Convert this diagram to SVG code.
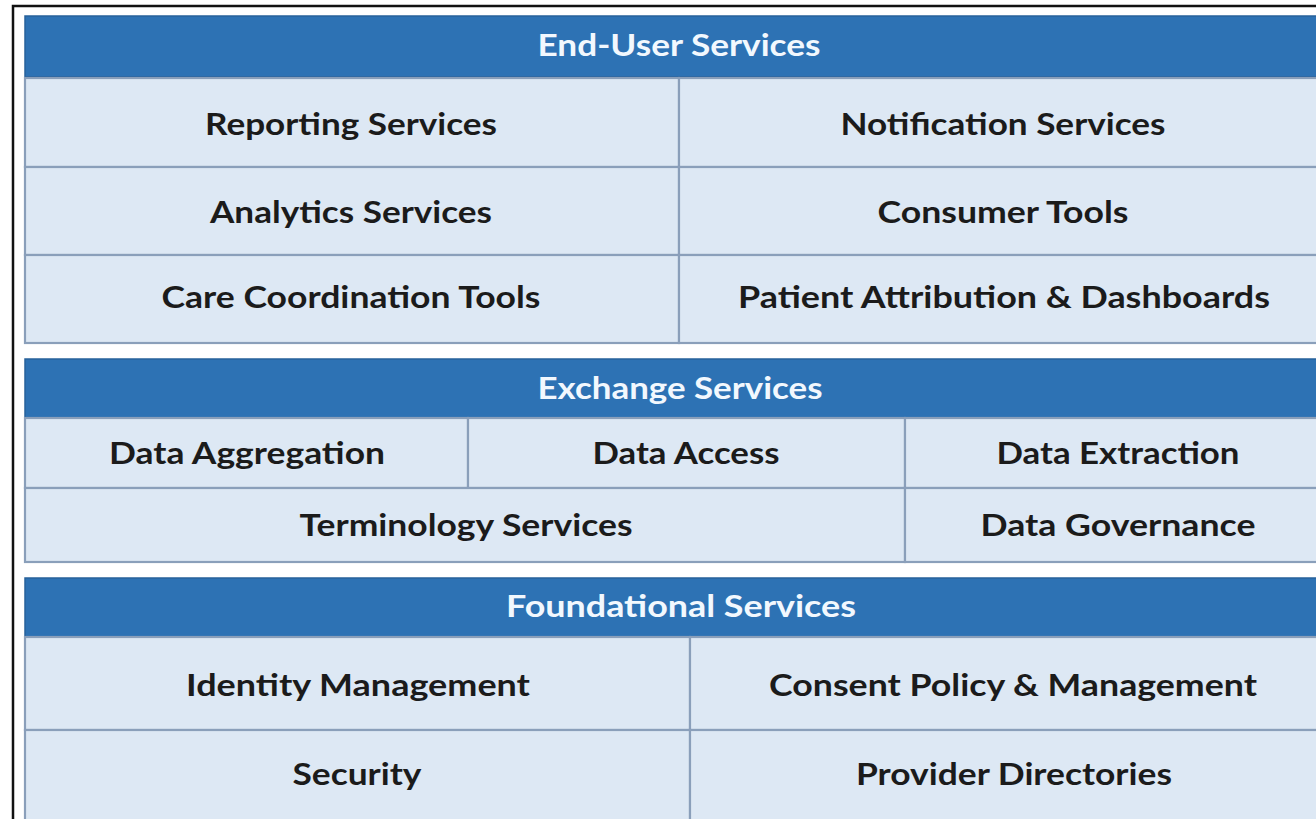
<svg xmlns="http://www.w3.org/2000/svg" width="1316" height="819" viewBox="0 0 1316 819">
  <style>
    .hdr { fill: #2d72b4; stroke: #27619a; stroke-width: 1.5; }
    .cell { fill: #dde8f4; stroke: #8a9fba; stroke-width: 2.2; }
    .ht { font-family: Lato, "Open Sans", "Liberation Sans", sans-serif; font-weight: 700; font-size: 30px; fill: #f2f8fe; text-anchor: middle; }
    .ct { font-family: Lato, "Open Sans", "Liberation Sans", sans-serif; font-weight: 700; font-size: 30px; fill: #1b1b1b; text-anchor: middle; }
  </style>
  <rect x="0" y="0" width="1316" height="819" fill="#ffffff"/>
  <path d="M13 819 V6 H1316" fill="none" stroke="#111111" stroke-width="2.5"/>

  <g id="end-user-services">
    <rect class="hdr" x="25" y="16" width="1310" height="61"/>
    <text class="ht" x="679" y="56" textLength="283" lengthAdjust="spacingAndGlyphs">End-User Services</text>
  </g>
  <g id="reporting-services">
    <rect class="cell" x="25" y="78" width="654" height="89"/>
    <text class="ct" x="351" y="135" textLength="292" lengthAdjust="spacingAndGlyphs">Reporting Services</text>
  </g>
  <g id="notification-services">
    <rect class="cell" x="679" y="78" width="650" height="89"/>
    <text class="ct" x="1003" y="135" textLength="325" lengthAdjust="spacingAndGlyphs">Notification Services</text>
  </g>
  <g id="analytics-services">
    <rect class="cell" x="25" y="167" width="654" height="88"/>
    <text class="ct" x="351" y="223" textLength="282" lengthAdjust="spacingAndGlyphs">Analytics Services</text>
  </g>
  <g id="consumer-tools">
    <rect class="cell" x="679" y="167" width="650" height="88"/>
    <text class="ct" x="1003" y="223" textLength="251" lengthAdjust="spacingAndGlyphs">Consumer Tools</text>
  </g>
  <g id="care-coordination-tools">
    <rect class="cell" x="25" y="255" width="654" height="88"/>
    <text class="ct" x="351" y="308" textLength="379" lengthAdjust="spacingAndGlyphs">Care Coordination Tools</text>
  </g>
  <g id="patient-attribution">
    <rect class="cell" x="679" y="255" width="650" height="88"/>
    <text class="ct" x="1004" y="308" textLength="532" lengthAdjust="spacingAndGlyphs">Patient Attribution &amp; Dashboards</text>
  </g>

  <g id="exchange-services">
    <rect class="hdr" x="25" y="359" width="1310" height="59"/>
    <text class="ht" x="680" y="399" textLength="285" lengthAdjust="spacingAndGlyphs">Exchange Services</text>
  </g>
  <g id="data-aggregation">
    <rect class="cell" x="25" y="418" width="443" height="70"/>
    <text class="ct" x="247" y="464" textLength="276" lengthAdjust="spacingAndGlyphs">Data Aggregation</text>
  </g>
  <g id="data-access">
    <rect class="cell" x="468" y="418" width="437" height="70"/>
    <text class="ct" x="686" y="464" textLength="187" lengthAdjust="spacingAndGlyphs">Data Access</text>
  </g>
  <g id="data-extraction">
    <rect class="cell" x="905" y="418" width="426" height="70"/>
    <text class="ct" x="1118" y="464" textLength="243" lengthAdjust="spacingAndGlyphs">Data Extraction</text>
  </g>
  <g id="terminology-services">
    <rect class="cell" x="25" y="488" width="880" height="74"/>
    <text class="ct" x="466" y="536" textLength="333" lengthAdjust="spacingAndGlyphs">Terminology Services</text>
  </g>
  <g id="data-governance">
    <rect class="cell" x="905" y="488" width="426" height="74"/>
    <text class="ct" x="1118" y="536" textLength="275" lengthAdjust="spacingAndGlyphs">Data Governance</text>
  </g>

  <g id="foundational-services">
    <rect class="hdr" x="25" y="578" width="1310" height="59"/>
    <text class="ht" x="681" y="617" textLength="350" lengthAdjust="spacingAndGlyphs">Foundational Services</text>
  </g>
  <g id="identity-management">
    <rect class="cell" x="25" y="637" width="665" height="93"/>
    <text class="ct" x="358" y="696" textLength="344" lengthAdjust="spacingAndGlyphs">Identity Management</text>
  </g>
  <g id="consent-policy">
    <rect class="cell" x="690" y="637" width="646" height="93"/>
    <text class="ct" x="1013" y="696" textLength="488" lengthAdjust="spacingAndGlyphs">Consent Policy &amp; Management</text>
  </g>
  <g id="security">
    <rect class="cell" x="25" y="730" width="665" height="95"/>
    <text class="ct" x="357" y="785" textLength="129" lengthAdjust="spacingAndGlyphs">Security</text>
  </g>
  <g id="provider-directories">
    <rect class="cell" x="690" y="730" width="646" height="95"/>
    <text class="ct" x="1014" y="785" textLength="316" lengthAdjust="spacingAndGlyphs">Provider Directories</text>
  </g>

  <g id="connectors"></g>
</svg>
